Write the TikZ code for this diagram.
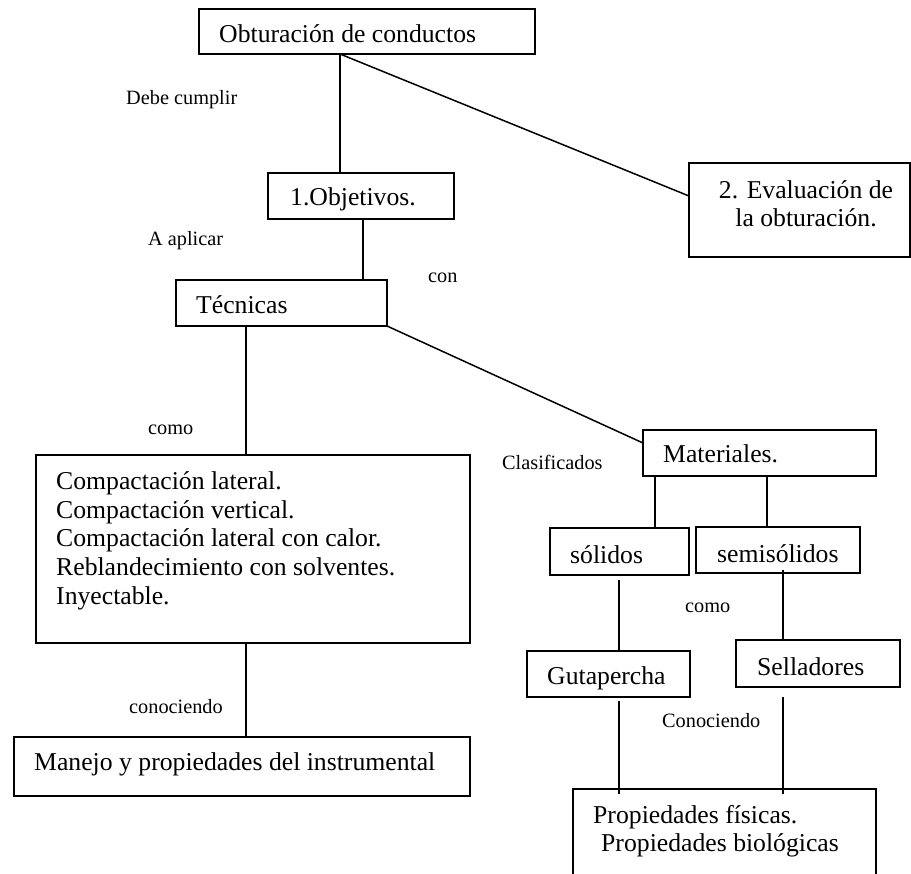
\documentclass[tikz,border=0pt]{standalone}
\usepackage{fontspec}
\setmainfont{Liberation Serif}
\usetikzlibrary{calc}
\begin{document}
\begin{tikzpicture}[x=1pt,y=-1pt,
  box/.style={draw, line width=1.5pt, inner sep=0pt, outer sep=0pt},
  big/.style={inner sep=0pt, anchor=base west, font=\fontsize{25.7}{28}\selectfont},
  lbl/.style={inner sep=0pt, anchor=base west, font=\fontsize{20.3}{24}\selectfont},
  link/.style={line width=1.5pt}]
\useasboundingbox (0,0) rectangle (911,874);

% boxes
\node[box, minimum width=336pt, minimum height=45pt] (obt) at (367,31.5) {};
\node[box, minimum width=186pt, minimum height=46pt] (obj) at (361,196) {};
\node[box, minimum width=221pt, minimum height=94pt] (eva) at (799.5,210) {};
\node[box, minimum width=211pt, minimum height=46pt] (tec) at (281.5,303) {};
\node[box, minimum width=434pt, minimum height=188pt] (comp) at (253,549) {};
\node[box, minimum width=456pt, minimum height=59pt] (man) at (242,766.5) {};
\node[box, minimum width=233pt, minimum height=46pt] (mat) at (759.5,453) {};
\node[box, minimum width=139pt, minimum height=47pt] (sol) at (619.5,551.5) {};
\node[box, minimum width=164pt, minimum height=46pt] (semi) at (778,550) {};
\node[box, minimum width=163pt, minimum height=46pt] (guta) at (608.5,674) {};
\node[box, minimum width=164pt, minimum height=47pt] (sell) at (818,663.5) {};
\node[box, minimum width=303pt, minimum height=111pt] (prop) at (724.5,844.5) {};

% box texts
\node[big] (tobt) at (219,43) {Obturación de conductos};
\node[big] (tobj) at (290,206) {1.Objetivos.};
\node[big, anchor=base] (teva1) at (806,199) {2. Evaluación de};
\node[big, anchor=base] (teva2) at (806,227) {la obturación.};
\node[big] (ttec) at (196,314) {Técnicas};
\node[big] (c1) at (56,490) {Compactación lateral.};
\node[big] (c2) at (56,518.5) {Compactación vertical.};
\node[big] (c3) at (56,547) {Compactación lateral con calor.};
\node[big] (c4) at (56,575.5) {Reblandecimiento con solventes.};
\node[big] (c5) at (56,604) {Inyectable.};
\node[big] (tmat) at (663,463) {Materiales.};
\node[big] (tsol) at (570,563) {sólidos};
\node[big] (tsemi) at (717,562) {semisólidos};
\node[big] (tguta) at (547,684) {Gutapercha};
\node[big] (tsell) at (757,675) {Selladores};
\node[big] (tman) at (34,770) {Manejo y propiedades del instrumental};
\node[big] (p1) at (593,823) {Propiedades físicas.};
\node[big] (p2) at (601,851) {Propiedades biológicas};

% link labels
\node[lbl] (l1) at (126,105) {Debe cumplir};
\node[lbl] (l2) at (148,246) {A aplicar};
\node[lbl] (l3) at (428,283) {con};
\node[lbl] (l4) at (148,435) {como};
\node[lbl] (l5) at (502,470) {Clasificados};
\node[lbl] (l6) at (685,612) {como};
\node[lbl] (l7) at (129,713) {conociendo};
\node[lbl] (l8) at (662,727) {Conociendo};

% connectors
\draw[link] (obt.south -| 340,0) -- (obj.north -| 340,0);
\draw[link] (obt.south -| 340,0) -- ([yshift=14pt]eva.west);
\draw[link] (obj.south -| 363,0) -- (tec.north -| 363,0);
\draw[link] (tec.south -| 246,0) -- (comp.north -| 246,0);
\draw[link] (tec.south east) -- ([yshift=10pt]mat.west);
\draw[link] (mat.south -| 655,0) -- (sol.north -| 655,0);
\draw[link] (mat.south -| 767,0) -- (semi.north -| 767,0);
\draw[link] ($(sol.south -| 619,0)+(0,5)$) -- (guta.north -| 619,0);
\draw[link] ($(semi.south -| 783,0)+(0,-3)$) -- (sell.north -| 783,0);
\draw[link] ($(guta.south -| 619,0)+(0,4)$) -- ($(prop.north -| 619,0)+(0,5)$);
\draw[link] ($(sell.south -| 783,0)+(0,10)$) -- ($(prop.north -| 783,0)+(0,5)$);
\draw[link] (comp.south -| 246,0) -- (man.north -| 246,0);
\end{tikzpicture}
\end{document}
